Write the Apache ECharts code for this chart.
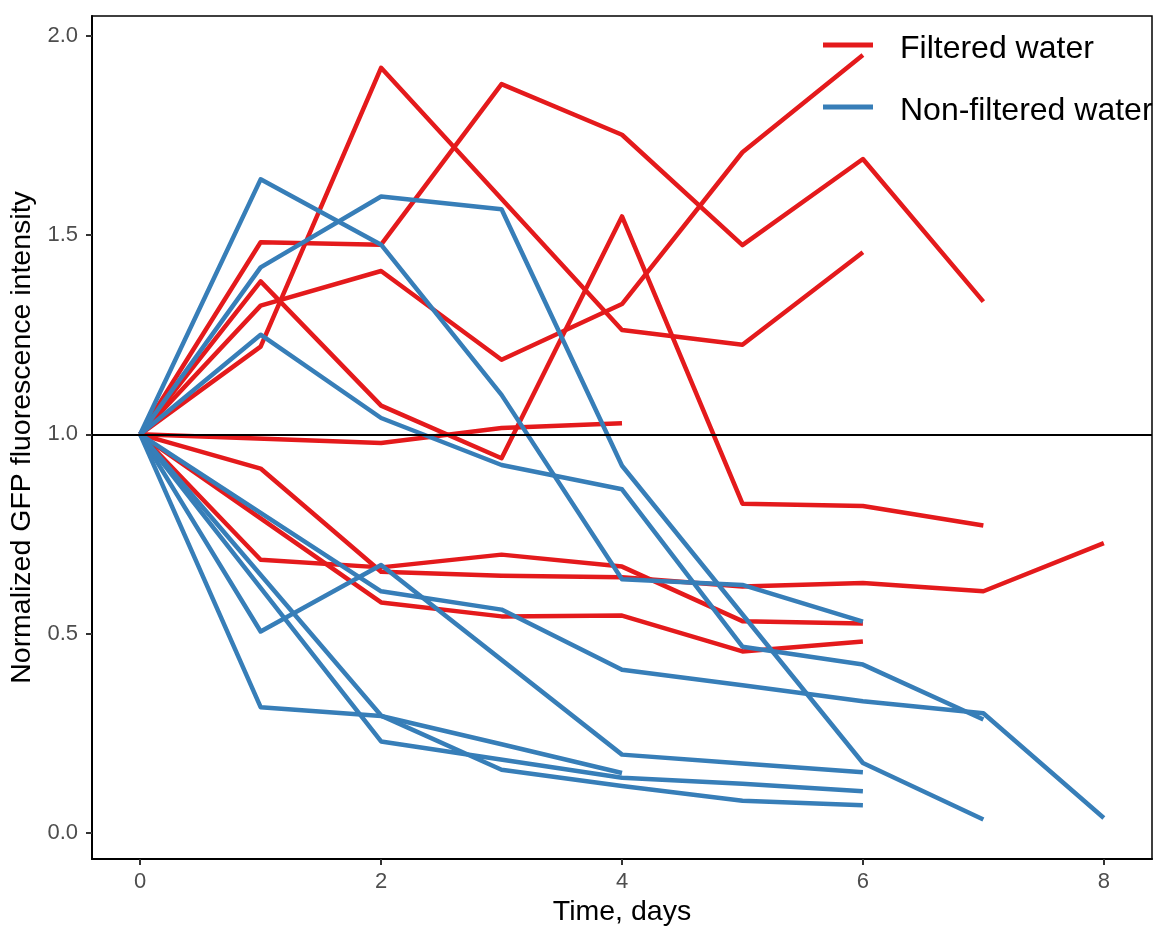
<!DOCTYPE html>
<html>
<head>
<meta charset="utf-8">
<title>GFP fluorescence over time</title>
<script src="https://cdn.jsdelivr.net/npm/echarts@6/dist/echarts.min.js"></script>
<style>
  html, body { margin: 0; padding: 0; background: #ffffff; }
  #chart { width: 1154px; height: 926px; }
</style>
</head>
<body>
<div id="chart"></div>
<script>
// Measurement days (x axis)
const days = [0, 1, 2, 3, 4, 5, 6, 7, 8];

// Normalized GFP intensity per replicate; null = not measured that day
const filteredA = [1, 1.220, 1.920, null, 1.262, 1.225, 1.457, null, null];
const filteredB = [1, 1.482, 1.476, 1.879, 1.752, 1.475, 1.691, 1.333, null];
const filteredC = [1, 1.323, 1.410, 1.187, 1.327, 1.708, 1.952, null, null];
const filteredD = [1, 1.384, 1.072, 0.940, 1.547, 0.826, 0.820, 0.771, null];
const filteredE = [1, null, 0.978, 1.016, 1.028, null, null, null, null];
const filteredF = [1, 0.685, 0.666, 0.698, 0.668, 0.531, 0.525, null, null];
const filteredG = [1, 0.914, 0.655, 0.645, 0.641, 0.618, 0.627, 0.606, 0.727];
const filteredH = [1, null, 0.578, 0.543, 0.545, 0.455, 0.480, null, null];

const nonFilteredA = [1, 1.640, 1.476, 1.099, 0.636, 0.622, 0.530, null, null];
const nonFilteredB = [1, 1.419, 1.597, 1.565, 0.921, null, 0.175, 0.033, null];
const nonFilteredC = [1, 1.250, 1.041, 0.923, 0.862, 0.467, 0.422, 0.284, null];
const nonFilteredD = [1, null, 0.606, 0.560, 0.409, 0.370, 0.330, 0.300, 0.037];
const nonFilteredE = [1, 0.505, 0.672, null, 0.196, 0.174, 0.152, null, null];
const nonFilteredF = [1, 0.315, 0.293, 0.222, 0.150, null, null, null, null];
const nonFilteredG = [1, null, 0.229, null, 0.138, 0.123, 0.104, null, null];
const nonFilteredH = [1, null, 0.294, 0.158, 0.117, 0.080, 0.069, null, null];

const filteredRuns = [filteredA, filteredB, filteredC, filteredD, filteredE, filteredF, filteredG, filteredH];
const nonFilteredRuns = [nonFilteredA, nonFilteredB, nonFilteredC, nonFilteredD, nonFilteredE, nonFilteredF, nonFilteredG, nonFilteredH];

// Axis ticks and labels
const xTicks = [0, 2, 4, 6, 8];
const yTicks = [0, 0.5, 1, 1.5, 2];
const referenceLevel = 1;

const groupNames = ['Filtered water', 'Non-filtered water'];
const groupColors = ['#E41A1C', '#377EB8'];

const FONT = '"Liberation Sans", Arial, Helvetica, sans-serif';

function toPoints(values) {
  return days.map((d, i) => [d, values[i]]).filter(p => p[1] !== null);
}

function runSeries(values, groupIndex) {
  return {
    type: 'line',
    name: groupNames[groupIndex],
    data: toPoints(values),
    showSymbol: false,
    symbol: 'none',
    silent: true,
    color: groupColors[groupIndex],
    itemStyle: { color: groupColors[groupIndex] },
    lineStyle: { color: groupColors[groupIndex], width: 4.5, join: 'round', cap: 'butt' },
    emphasis: { disabled: true },
    animation: false,
    z: 2
  };
}

const series = [];
filteredRuns.forEach(v => series.push(runSeries(v, 0)));
nonFilteredRuns.forEach(v => series.push(runSeries(v, 1)));

// Horizontal reference line at the starting level
series.push({
  type: 'line',
  data: [],
  silent: true,
  animation: false,
  z: 5,
  markLine: {
    silent: true,
    symbol: ['none', 'none'],
    label: { show: false },
    lineStyle: { color: '#000000', width: 2.2, type: 'solid' },
    emphasis: { disabled: true },
    animation: false,
    data: [{ yAxis: referenceLevel }]
  }
});

const chart = echarts.init(document.getElementById('chart'), null, { renderer: 'canvas' });

chart.setOption({
  backgroundColor: '#ffffff',
  animation: false,
  textStyle: { fontFamily: FONT },
  grid: {
    left: 92,
    right: 2,
    top: 16,
    bottom: 67,
    show: true,
    borderColor: '#000000',
    borderWidth: 1.5,
    backgroundColor: 'transparent',
    containLabel: false,
    outerBoundsMode: 'none'
  },
  legend: {
    data: groupNames,
    orient: 'vertical',
    left: 823,
    top: 25,
    padding: 0,
    itemGap: 22,
    itemWidth: 50,
    itemHeight: 5,
    icon: 'rect',
    selectedMode: false,
    formatter: name => '{t|' + name + '}',
    textStyle: {
      fontFamily: FONT,
      fontSize: 32,
      color: '#000000',
      rich: {
        t: {
          fontFamily: FONT,
          fontSize: 32,
          lineHeight: 32,
          color: '#000000',
          padding: [8, 0, 0, 22]
        }
      }
    }
  },
  xAxis: {
    type: 'value',
    min: -0.4,
    max: 8.4,
    name: 'Time, days',
    nameLocation: 'middle',
    nameGap: 38,
    nameTextStyle: { fontFamily: FONT, fontSize: 28.5, color: '#000000' },
    axisLine: { show: true, onZero: false, lineStyle: { color: '#000000', width: 2 } },
    axisTick: { show: true, length: 6, customValues: xTicks, lineStyle: { color: '#333333', width: 2 } },
    axisLabel: {
      show: true,
      customValues: xTicks,
      margin: 12,
      fontFamily: FONT,
      fontSize: 22,
      color: '#4D4D4D',
      formatter: v => String(v)
    },
    splitLine: { show: false }
  },
  yAxis: {
    type: 'value',
    min: -0.066,
    max: 2.05,
    name: 'Normalized GFP fluorescence intensity',
    nameLocation: 'middle',
    nameGap: 53,
    nameTextStyle: { fontFamily: FONT, fontSize: 28.5, color: '#000000' },
    axisLine: { show: true, onZero: false, lineStyle: { color: '#000000', width: 2 } },
    axisTick: { show: true, length: 6, customValues: yTicks, lineStyle: { color: '#333333', width: 2 } },
    axisLabel: {
      show: true,
      customValues: yTicks,
      margin: 14,
      fontFamily: FONT,
      fontSize: 22,
      color: '#4D4D4D',
      formatter: v => Number(v).toFixed(1)
    },
    splitLine: { show: false }
  },
  series: series
});
</script>
</body>
</html>
